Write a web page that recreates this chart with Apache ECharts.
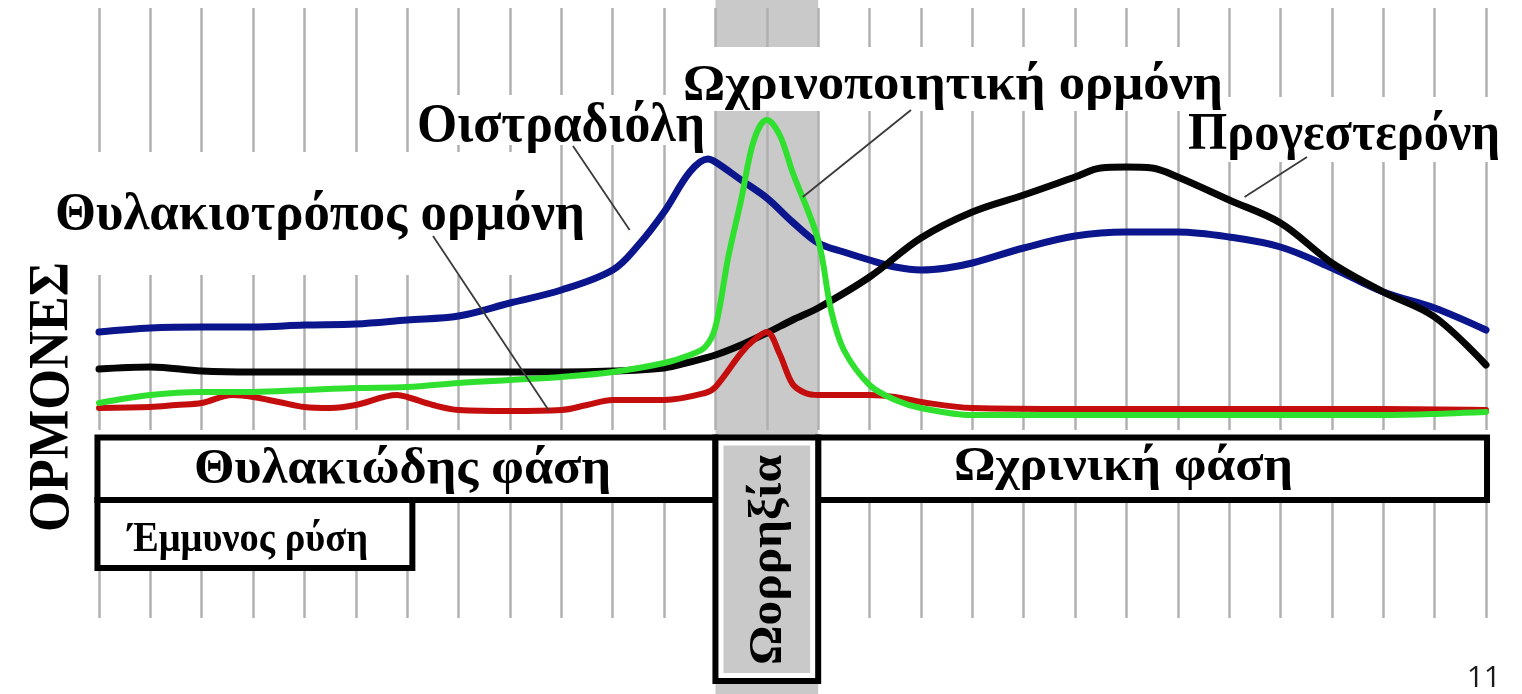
<!DOCTYPE html>
<html>
<head>
<meta charset="utf-8">
<script src="https://cdn.jsdelivr.net/npm/echarts@6/dist/echarts.min.js"></script>
<style>
  html, body { margin: 0; padding: 0; background: #ffffff; }
  #chart { width: 1522px; height: 694px; }
</style>
</head>
<body>
<div id="chart"></div>
<script>
// Cycle days 1..28 on the x axis; hormone levels in relative units (0..105.5).
const cycleDays = [1, 28];

// Οιστραδιόλη
const estradiol = [
  [1, 24.5], [2, 25.5], [3, 25.75], [4, 25.75], [5, 26.25], [6, 26.5], [7, 27.5],
  [8, 28.5], [9, 31.75], [10, 35], [11, 40], [11.5, 46.25], [12, 54.5], [12.5, 64.5],
  [12.85, 67.75], [13, 67], [13.5, 62.5], [14, 58], [14.5, 52], [15, 46.75],
  [15.5, 44.5], [16, 42.5], [16.5, 40.75], [17, 40], [17.5, 40.5], [18, 41.75],
  [19, 45.5], [20, 48.5], [21, 49.5], [22, 49.5], [23, 48.25], [24, 45.75],
  [25, 40.5], [26, 34.5], [27, 30.5], [28, 25]
];

// Προγεστερόνη
const progesterone = [
  [1, 15.25], [2, 15.75], [3, 14.75], [4, 14.5], [6, 14.5], [8, 14.5], [10, 14.5],
  [11, 14.75], [12, 15.5], [12.5, 17], [13, 18.75], [13.5, 21.25], [14, 24.25],
  [14.5, 27.5], [15, 30.5], [16, 38.25], [17, 48], [18, 54.5], [19, 58.75], [20, 63.25],
  [20.5, 65.5], [21, 65.75], [21.5, 65.5], [22, 63.25], [23, 57.5], [24, 51.75],
  [25, 41.75], [26, 34.5], [27, 28.25], [28, 16.25]
];

// Θυλακιοτρόπος ορμόνη
const fsh = [
  [1, 5.5], [2, 5.75], [2.5, 6.25], [3, 6.75], [3.6, 8.75], [4, 8.25], [4.5, 7],
  [5, 5.75], [5.5, 5.5], [6, 6.25], [6.8, 8.75], [7, 8.25], [7.5, 6.25], [8, 5],
  [9, 4.75], [10, 5], [10.5, 6.25], [11, 7.5], [12, 7.5], [12.8, 9.25], [13, 10.75],
  [13.5, 19.25], [13.75, 22.5], [14, 24.5], [14.25, 19], [14.5, 11.5], [14.75, 9.25],
  [15, 8.75], [16, 8.75], [16.5, 8.25], [17, 7], [18, 5.5], [20, 5.25], [22, 5.25],
  [24, 5.25], [26, 5.25], [28, 5]
];

// Ωχρινοποιητική ορμόνη
const lh = [
  [1, 6.75], [2, 8.75], [3, 9.5], [4, 9.5], [5, 10], [6, 10.5], [7, 10.75], [8, 11.75],
  [9, 12.5], [10, 13.25], [11, 14.5], [12, 16.75], [12.5, 18.75], [12.8, 20.75],
  [13, 25.75], [13.25, 43.25], [13.5, 57.5], [13.75, 72.5], [14, 77.5], [14.25, 73.75],
  [14.5, 64.5], [15, 47.5], [15.25, 30], [15.5, 20], [16, 11.25], [16.5, 7.5],
  [17, 5.5], [18, 3.75], [20, 3.75], [22, 3.75], [24, 3.75], [26, 3.75], [27, 4], [28, 4.5]
];

// Cycle phases (day ranges)
const follicularPhase = { name: 'Θυλακιώδης φάση', from: 0.97, to: 13 };
const ovulation = { name: 'Ωορρηξία', from: 13, to: 15 };
const lutealPhase = { name: 'Ωχρινική φάση', from: 15, to: 28.02 };
const menses = { name: 'Έμμυνος ρύση', from: 0.97, to: 7.1 };

const yTitle = 'ΟΡΜΟΝΕΣ';
const pageNumber = '11';

const SERIF = '"Liberation Serif", "Times New Roman", serif';

const chart = echarts.init(document.getElementById('chart'), null, { renderer: 'canvas' });

const dayAxis = (gridIndex) => ({
  type: 'value', gridIndex, min: cycleDays[0], max: cycleDays[1], interval: 1,
  axisLine: { show: false }, axisTick: { show: false }, axisLabel: { show: false },
  splitLine: { show: true, lineStyle: { color: '#b0b0b0', width: 2.5 } }
});

function lineSeries(name, data, color, width) {
  return {
    name, type: 'line', data, smooth: 0.35,
    showSymbol: false, symbol: 'none',
    xAxisIndex: 0, yAxisIndex: 0,
    lineStyle: { color, width, cap: 'round', join: 'round' }
  };
}

chart.setOption({
  animation: false,
  backgroundColor: '#ffffff',
  grid: [
    { left: 99, right: 36, top: 8, bottom: 264 },
    { left: 99, right: 36, top: 503, bottom: 76 }
  ],
  xAxis: [dayAxis(0), dayAxis(1)],
  yAxis: [
    { type: 'value', gridIndex: 0, min: 0, max: 105.5, show: false },
    { type: 'value', gridIndex: 1, min: 0, max: 1, show: false }
  ],
  series: [
    lineSeries('Οιστραδιόλη', estradiol, '#0c168c', 7),
    lineSeries('Προγεστερόνη', progesterone, '#050505', 7),
    lineSeries('Θυλακιοτρόπος ορμόνη', fsh, '#c40d0d', 6),
    lineSeries('Ωχρινοποιητική ορμόνη', lh, '#2fe02f', 6)
  ]
});

// ---- overlay: band, label backgrounds, phase boxes, labels ----
const px = (d, v) => chart.convertToPixel({ xAxisIndex: 0, yAxisIndex: 0 }, [d, v === undefined ? 0 : v]);
const dx = (d) => px(d)[0];

const measureCtx = document.createElement('canvas').getContext('2d');
function textEl(str, opt) {
  const font = 'bold ' + opt.size + 'px ' + (opt.family || SERIF);
  measureCtx.font = font;
  const w = measureCtx.measureText(str).width;
  const s = opt.width ? opt.width / w : 1;
  return {
    type: 'text', x: opt.x, y: opt.y, z: 20,
    rotation: opt.rotation || 0,
    scaleX: s,
    style: {
      text: str, font, fill: opt.color || '#000000',
      textAlign: opt.align || 'left', textVerticalAlign: 'middle'
    }
  };
}

function whiteRect(x1, y1, x2, y2) {
  return { type: 'rect', z: 1, shape: { x: x1, y: y1, width: x2 - x1, height: y2 - y1 },
           style: { fill: '#ffffff' } };
}

function boxRect(x1, y1, x2, y2, z) {
  return { type: 'rect', z: z || 10, shape: { x: x1, y: y1, width: x2 - x1, height: y2 - y1 },
           style: { fill: '#ffffff', stroke: '#000000', lineWidth: 6 } };
}

function leader(x1, y1, target) {
  const p = px(target[0], target[1]);
  return { type: 'line', z: 15, shape: { x1, y1, x2: p[0], y2: p[1] },
           style: { stroke: '#3a3a3a', lineWidth: 1.8 } };
}

const bandL = dx(ovulation.from), bandR = dx(ovulation.to);
const topY = 437.5, midY = 500, bottomY = 681, mensesBottom = 568;

const graphics = [
  // ovulation band behind the day lines
  { type: 'rect', z: -1, shape: { x: bandL, y: 0, width: bandR - bandL, height: 694 },
    style: { fill: '#c9c9c9' } },

  // label backgrounds
  whiteRect(50, 152, 545, 275),
  whiteRect(412, 95, 712, 145),
  whiteRect(678, 47, 1205, 111),
  whiteRect(1182, 97, 1510, 162),

  // phase boxes
  boxRect(dx(follicularPhase.from), topY, dx(follicularPhase.to), midY),
  boxRect(dx(lutealPhase.from), topY, dx(lutealPhase.to), midY),
  boxRect(dx(menses.from), midY, dx(menses.to), mensesBottom),
  boxRect(dx(ovulation.from), topY, dx(ovulation.to), bottomY, 11),
  { type: 'rect', z: 12,
    shape: { x: bandL + 8, y: topY + 8, width: bandR - bandL - 16, height: bottomY - topY - 16 },
    style: { fill: '#c9c9c9' } },

  // leader lines from the names to their curves
  leader(433, 236, [9.75, 5]),
  leader(573, 146, [11.33, 50]),
  leader(911, 110, [14.7, 58.25]),
  leader(1307, 157, [23.3, 58.25]),

  // curve names
  textEl('Θυλακιοτρόπος ορμόνη', { x: 55, y: 216, size: 52, width: 530 }),
  textEl('Οιστραδιόλη', { x: 417, y: 127, size: 54, width: 288 }),
  textEl('Ωχρινοποιητική ορμόνη', { x: 683, y: 86, size: 50, width: 540 }),
  textEl('Προγεστερόνη', { x: 1188, y: 136, size: 52, width: 312 }),

  // phase names
  textEl(follicularPhase.name, { x: 194, y: 470, size: 50, width: 417 }),
  textEl(lutealPhase.name, { x: 954, y: 468, size: 48, width: 339 }),
  textEl(menses.name, { x: 128, y: 540, size: 42, width: 240 }),
  textEl(ovulation.name, { x: (bandL + bandR) / 2 + 2, y: 560, size: 46, width: 210,
                           align: 'center', rotation: Math.PI / 2 }),

  // axis title
  textEl(yTitle, { x: 54, y: 397, size: 56, width: 270, align: 'center', rotation: Math.PI / 2 }),

  // page number
  { type: 'text', x: 1501, y: 678, z: 20,
    style: { text: pageNumber, font: '30px "Open Sans", "Liberation Sans", sans-serif',
             fill: '#1a1a1a', textAlign: 'right', textVerticalAlign: 'middle' } }
];

chart.setOption({ graphic: graphics });
</script>
</body>
</html>
